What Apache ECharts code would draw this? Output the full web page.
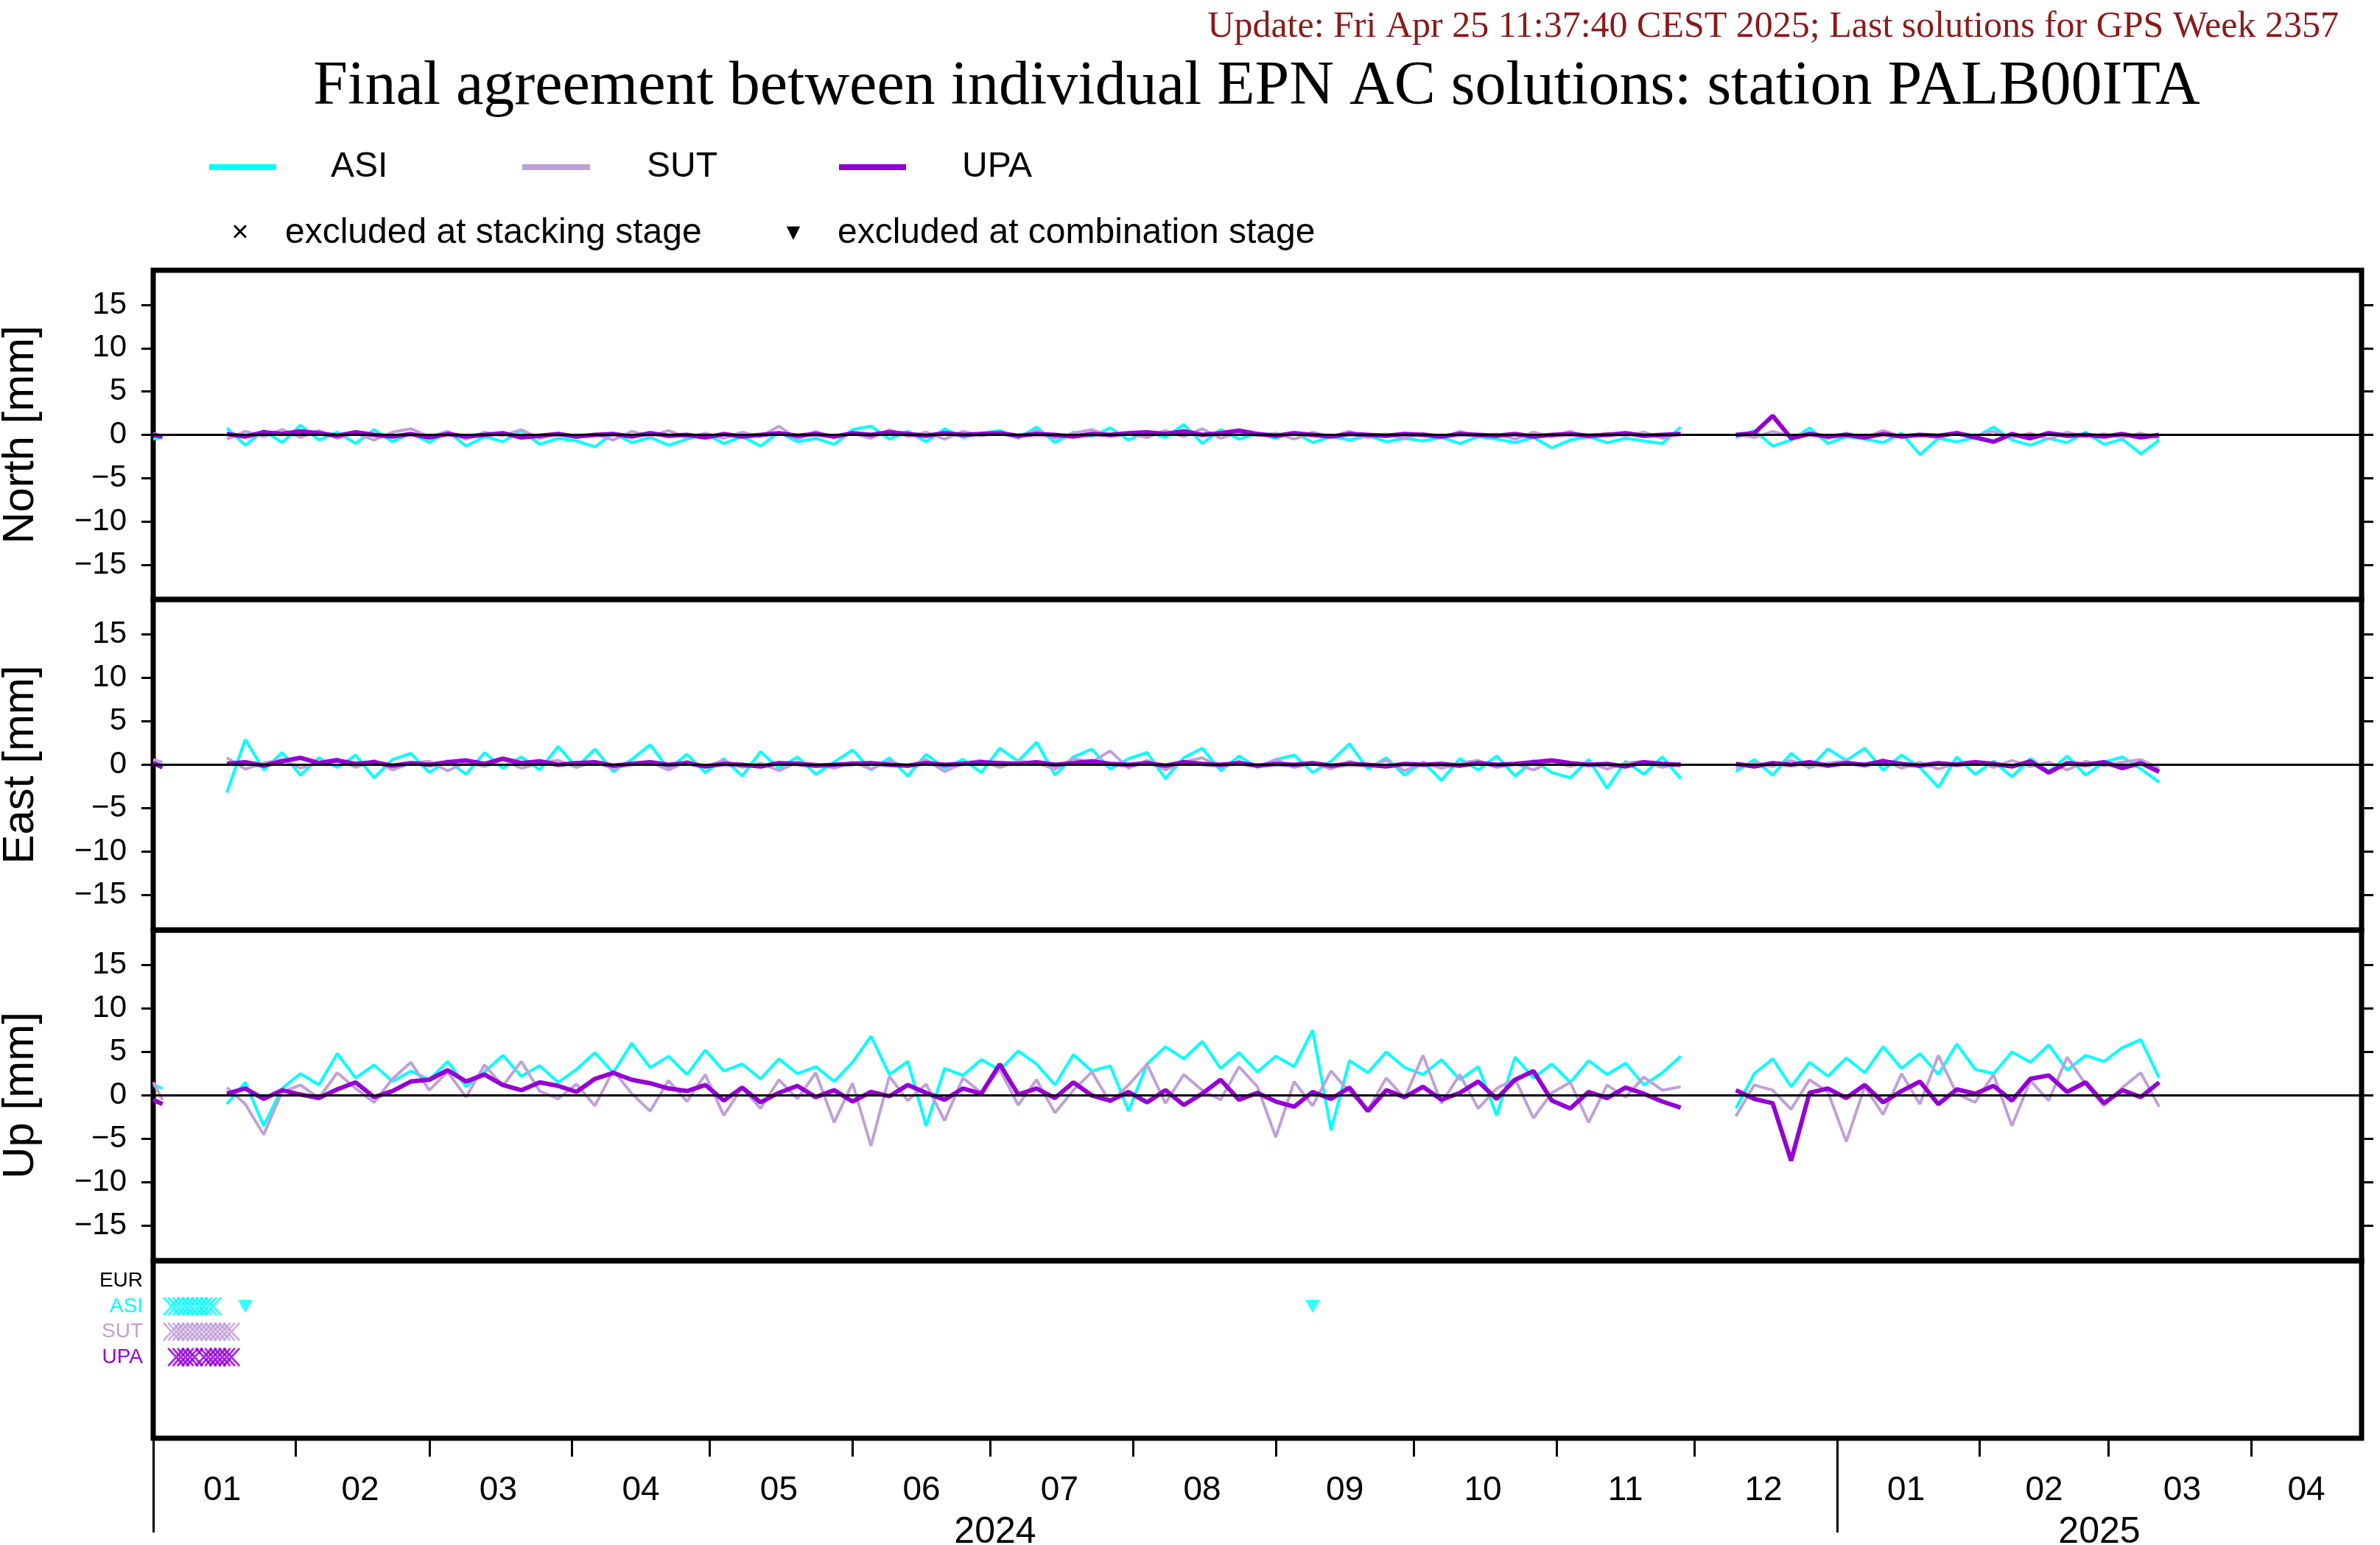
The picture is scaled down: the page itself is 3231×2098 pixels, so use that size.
<!DOCTYPE html>
<html><head><meta charset="utf-8">
<script src="https://cdn.jsdelivr.net/npm/echarts@6/dist/echarts.min.js"></script>
<style>html,body{margin:0;padding:0;background:#fff}#c{width:3231px;height:2098px}</style>
</head><body><div id="c"></div>
<script>
const dates = ['2024-01-01','2024-01-03','2024-01-10',
'2024-01-17','2024-01-21','2024-01-25','2024-01-29',
'2024-02-02','2024-02-06','2024-02-10','2024-02-14','2024-02-18','2024-02-22','2024-02-26',
'2024-03-01','2024-03-05','2024-03-09','2024-03-13','2024-03-17','2024-03-21','2024-03-25','2024-03-29',
'2024-04-02','2024-04-06','2024-04-10','2024-04-14','2024-04-18','2024-04-22','2024-04-26','2024-04-30',
'2024-05-04','2024-05-08','2024-05-12','2024-05-16','2024-05-20','2024-05-24','2024-05-28',
'2024-06-01','2024-06-05','2024-06-09','2024-06-13','2024-06-17','2024-06-21','2024-06-25','2024-06-29',
'2024-07-03','2024-07-07','2024-07-11','2024-07-15','2024-07-19','2024-07-23','2024-07-27','2024-07-31',
'2024-08-04','2024-08-08','2024-08-12','2024-08-16','2024-08-20','2024-08-24','2024-08-28',
'2024-09-01','2024-09-05','2024-09-09','2024-09-13','2024-09-17','2024-09-21','2024-09-25','2024-09-29',
'2024-10-03','2024-10-07','2024-10-11','2024-10-15','2024-10-19','2024-10-23','2024-10-27','2024-10-31',
'2024-11-04','2024-11-08','2024-11-12','2024-11-16','2024-11-20','2024-11-24','2024-11-28',
'2024-12-02','2024-12-06','2024-12-10','2024-12-14','2024-12-18','2024-12-22','2024-12-26','2024-12-30',
'2025-01-03','2025-01-07','2025-01-11','2025-01-15','2025-01-19','2025-01-23','2025-01-27','2025-01-31',
'2025-02-04','2025-02-08','2025-02-12','2025-02-16','2025-02-20','2025-02-24','2025-02-28',
'2025-03-04','2025-03-08','2025-03-12'];

const northASI = [-0.5,-0.3,null,
 0.8,-1.2,0.5,-0.9,
 1.1,-0.6,0.3,-1.0,0.6,-0.8,0.2,
 -0.9,0.4,-1.3,-0.2,-0.8,0.5,-1.1,-0.4,
 -0.7,-1.4,0.2,-0.9,-0.3,-1.2,-0.5,0.1,
 -1.0,-0.2,-1.3,0.3,-0.8,-0.4,-1.1,
 0.6,1.0,-0.5,0.4,-0.8,0.7,-0.3,0.2,
 0.5,-0.4,0.9,-0.9,0.3,-0.2,0.8,-0.6,
 0.4,-0.3,1.2,-1.0,0.6,-0.5,0.2,
 -0.4,0.3,-0.9,-0.2,-0.6,-0.1,-0.8,-0.4,
 -0.7,-0.3,-1.0,-0.2,-0.5,-0.9,-0.3,-1.5,
 -0.6,-0.2,-0.9,-0.4,-0.7,-1.0,0.9,
 null,null,-0.3,0.5,-1.3,-0.6,0.8,-1.0,
 -0.2,-0.5,-0.9,0.2,-2.3,-0.4,-0.8,-0.3,
 0.9,-0.6,-1.2,-0.4,-0.9,0.3,-1.1,
 -0.5,-2.2,-0.6];
const northSUT = [0.2,-0.3,null,
 -0.5,0.4,-0.2,0.6,
 -0.3,0.5,-0.4,0.2,-0.6,0.3,0.7,
 -0.2,0.4,-0.5,0.3,-0.1,0.6,-0.4,0.2,
 -0.3,0.1,-0.6,0.4,-0.2,0.5,-0.3,0.2,
 -0.4,0.3,-0.2,1.0,-0.5,0.4,-0.3,
 0.2,-0.4,0.6,-0.2,0.3,-0.5,0.4,-0.1,
 0.3,-0.3,0.5,-0.4,0.2,0.6,-0.2,0.1,
 -0.3,0.5,-0.2,0.7,-0.4,0.3,-0.1,
 0.2,-0.5,0.3,-0.2,0.4,-0.3,0.1,-0.4,
 0.2,-0.3,0.4,-0.2,0.1,-0.5,0.3,-0.2,
 0.4,-0.3,0.2,-0.1,0.3,-0.4,0.2,
 null,null,0.1,-0.3,0.4,-0.2,0.3,-0.4,
 0.2,-0.3,0.5,-0.2,0.1,-0.4,0.3,-0.1,
 0.4,-0.3,0.2,-0.5,0.3,-0.2,0.1,
 -0.3,0.2,-0.4];
const northUPA = [0.0,-0.2,null,
 0.1,-0.2,0.3,0.1,
 0.4,0.2,-0.1,0.3,0.0,-0.2,0.1,
 -0.3,0.1,-0.2,0.0,0.2,-0.3,-0.1,0.1,
 -0.2,0.0,0.1,-0.2,0.2,-0.1,0.0,-0.3,
 0.1,-0.2,0.0,0.2,-0.1,0.1,-0.2,
 0.2,0.0,0.3,0.1,-0.1,0.2,0.0,0.1,
 0.2,-0.1,0.1,0.0,-0.2,0.1,0.0,0.2,
 0.3,0.1,0.4,0.0,0.2,0.5,0.1,
 -0.1,0.2,0.0,-0.2,0.1,0.0,-0.1,0.1,
 0.0,-0.2,0.1,0.0,-0.1,0.1,-0.2,0.0,
 0.1,-0.1,0.0,0.2,-0.1,0.0,0.1,
 null,null,0.0,0.2,2.2,-0.4,0.1,-0.2,
 0.0,-0.3,0.1,-0.2,0.0,-0.1,0.2,-0.3,
 -0.8,0.1,-0.4,0.2,-0.1,0.0,-0.2,
 0.1,-0.3,0.0];

const eastASI = [0.4,0.2,null,
 -3.2,2.9,-0.6,1.4,
 -1.2,0.8,-0.3,1.1,-1.5,0.6,1.3,
 -0.9,0.5,-1.1,1.4,-0.4,0.9,-0.6,2.1,
 -0.3,1.8,-0.8,0.6,2.3,-0.5,1.2,-0.9,
 0.7,-1.3,1.5,-0.4,0.9,-1.1,0.3,
 1.7,-0.6,0.8,-1.3,1.2,-0.4,0.6,-0.9,
 1.9,0.4,2.6,-1.2,0.9,1.8,-0.5,0.7,
 1.4,-1.6,0.8,1.9,-0.7,1.0,-0.3,
 0.6,1.1,-0.9,0.4,2.4,-0.5,0.8,-1.2,
 0.3,-1.8,0.7,-0.6,1.0,-1.3,0.5,-0.9,
 -1.5,0.6,-2.7,0.4,-1.1,0.9,-1.6,
 null,null,-0.8,0.6,-1.2,1.3,-0.4,1.8,
 0.5,1.9,-0.6,1.1,-0.3,-2.6,0.9,-1.1,
 0.4,-1.4,0.7,-0.8,1.0,-1.2,0.3,
 0.9,-0.5,-2.0];
const eastSUT = [0.6,0.3,null,
 0.8,-0.5,0.2,0.6,
 -0.4,0.3,0.7,-0.3,0.5,-0.6,0.2,
 0.4,-0.7,0.3,-0.2,0.6,-0.4,0.2,0.5,
 -0.3,0.4,-0.5,0.2,0.3,-0.6,0.4,-0.2,
 0.5,-0.3,0.2,-0.7,0.3,0.1,-0.4,
 0.3,-0.5,0.4,-0.2,0.6,-0.8,0.2,0.5,
 -0.3,0.4,0.2,-0.5,0.7,0.3,1.6,-0.4,
 0.5,-0.6,0.3,0.8,-0.3,0.4,-0.2,
 0.6,-0.3,0.2,-0.5,0.4,-0.2,0.5,-0.7,
 0.3,-0.4,0.2,0.5,-0.3,0.1,-0.6,0.4,
 -0.2,0.3,-0.5,0.2,0.4,-0.3,0.2,
 null,null,-0.4,0.3,-0.2,0.5,-0.3,0.2,
 0.4,-0.2,0.6,-0.4,0.3,-0.5,0.2,0.4,
 -0.3,0.5,-0.2,0.3,-0.6,0.4,-0.1,
 0.3,0.6,-0.4];
const eastUPA = [0.2,-0.3,null,
 0.1,0.3,-0.1,0.4,
 0.8,0.2,0.5,0.1,0.3,-0.1,0.2,
 0.0,0.3,0.5,0.1,0.7,0.2,0.4,0.0,
 0.2,0.3,-0.1,0.1,0.3,0.0,0.2,-0.2,
 0.1,0.0,-0.2,0.2,0.1,-0.1,0.0,
 0.1,0.2,0.0,-0.1,0.2,0.0,0.1,0.3,
 0.2,0.1,0.3,0.0,0.2,0.4,0.1,0.0,
 0.2,-0.1,0.3,0.1,0.0,0.2,-0.1,
 0.1,0.0,0.2,-0.1,0.1,0.0,-0.2,0.1,
 0.0,0.1,-0.1,0.2,0.0,0.1,0.3,0.5,
 0.2,0.0,0.1,-0.2,0.3,0.1,0.0,
 null,null,0.1,-0.2,0.2,0.0,0.3,-0.1,
 0.2,0.0,0.4,0.1,-0.1,0.2,0.0,0.3,
 0.1,-0.2,0.4,-0.9,0.2,0.0,0.3,
 -0.4,0.2,-0.8];

const upASI = [1.2,0.8,null,
 -1.0,1.5,-3.5,0.8,
 2.5,1.2,4.8,2.0,3.5,1.6,2.8,
 1.8,3.9,1.0,2.7,4.6,2.2,3.4,1.5,
 3.0,4.9,2.6,6.0,3.2,4.5,2.4,5.2,
 2.8,3.6,1.9,4.2,2.5,3.3,1.6,
 3.8,6.8,2.4,3.9,-3.5,3.1,2.3,4.1,
 2.9,5.1,3.6,1.2,4.7,2.8,3.4,-1.8,
 3.6,5.6,4.2,6.2,3.1,4.9,2.7,
 4.5,3.3,7.5,-4.0,4.0,2.6,5.0,3.2,
 2.4,4.1,1.8,3.3,-2.3,4.4,2.0,3.6,
 1.5,4.0,2.4,3.7,1.2,2.6,4.5,
 null,null,-1.5,2.5,4.2,1.0,3.8,2.2,
 4.3,2.6,5.6,3.1,4.8,2.4,5.9,3.0,
 2.5,5.0,3.8,5.8,2.9,4.6,3.9,
 5.5,6.4,2.0];
const upSUT = [1.5,-0.5,null,
 0.9,-1.0,-4.5,0.4,
 1.2,-0.3,2.6,0.8,-0.8,1.9,3.8,
 0.6,2.7,-0.2,3.5,1.1,3.9,0.5,-0.4,
 1.3,-1.2,2.9,0.2,-1.8,1.7,-0.7,2.4,
 -2.3,0.9,-1.5,1.8,-0.4,2.6,-3.1,
 1.4,-5.8,2.2,-0.6,1.3,-2.9,2.0,0.3,
 3.0,-1.1,1.8,-2.0,0.6,2.7,-0.8,1.2,
 3.6,-0.9,2.4,0.6,-0.5,3.3,1.0,
 -4.8,1.6,-1.2,2.8,0.4,-1.7,2.0,-0.3,
 4.6,-0.9,2.4,-1.5,0.8,1.9,-2.6,0.3,
 1.5,-3.1,1.2,-0.2,2.1,0.6,1.0,
 null,null,-2.4,1.2,0.6,-1.6,1.8,0.4,
 -5.3,1.0,-2.2,2.5,-1.0,4.6,0.2,-0.8,
 2.4,-3.5,1.7,-0.6,4.4,1.3,-1.2,
 0.9,2.6,-1.3];
const upUPA = [-0.5,-1.0,null,
 0.2,0.8,-0.4,0.6,
 0.1,-0.3,0.7,1.5,-0.2,0.5,1.6,
 1.8,2.9,1.6,2.4,1.2,0.6,1.5,1.1,
 0.4,1.9,2.6,1.8,1.4,0.8,0.5,1.2,
 -0.6,0.9,-0.8,0.3,1.1,-0.2,0.6,
 -0.7,0.4,-0.1,1.2,0.3,-0.5,0.8,0.2,
 3.6,0.1,0.8,-0.3,1.5,0.0,-0.6,0.4,
 -0.8,0.6,-1.1,0.2,1.8,-0.5,0.3,
 -0.7,-1.3,0.4,-0.4,0.9,-1.8,0.6,-0.2,
 1.0,-0.5,0.3,1.6,-0.4,1.8,2.8,-0.6,
 -1.5,0.4,-0.3,0.9,0.2,-0.7,-1.4,
 null,null,0.6,-0.4,-0.9,-7.5,0.3,0.8,
 -0.3,1.2,-0.8,0.5,1.6,-1.0,0.7,0.2,
 1.1,-0.6,1.9,2.3,0.4,1.5,-0.9,
 0.6,-0.2,1.5];

const exclRows = ['EUR','ASI','SUT','UPA'];
const asiCross = ['2024-01-05','2024-01-06','2024-01-07','2024-01-08','2024-01-09','2024-01-10','2024-01-11','2024-01-12','2024-01-13','2024-01-14'];
const sutCross = ['2024-01-05','2024-01-06','2024-01-07','2024-01-08','2024-01-09','2024-01-10','2024-01-11','2024-01-12','2024-01-13','2024-01-14','2024-01-15','2024-01-16','2024-01-17','2024-01-18'];
const upaCross = ['2024-01-06','2024-01-07','2024-01-08','2024-01-09','2024-01-10','2024-01-12','2024-01-13','2024-01-14','2024-01-15','2024-01-16','2024-01-17','2024-01-18'];
const asiTriangle = ['2024-01-21','2024-09-09'];

const monthTicks = ['2024-02-01','2024-03-01','2024-04-01','2024-05-01','2024-06-01','2024-07-01','2024-08-01','2024-09-01','2024-10-01','2024-11-01','2024-12-01','2025-02-01','2025-03-01','2025-04-01'];
const monthLabelAt = ['2024-01-16','2024-02-15','2024-03-16','2024-04-16','2024-05-16','2024-06-16','2024-07-16','2024-08-16','2024-09-16','2024-10-16','2024-11-16','2024-12-16','2025-01-16','2025-02-15','2025-03-17','2025-04-13'];
const yearTicks = ['2024-01-01','2025-01-01'];
const yearLabelAt = ['2024-07-02','2025-02-27'];
const yTicks = [-15,-10,-5,0,5,10,15];

const T = d => Date.parse(d + 'T00:00:00Z');
const COL = {ASI:'#00ffff', SUT:'#c0a0d8', UPA:'#9400d3'};
const XMIN = T('2024-01-01'), XMAX = T('2025-04-25');
const FONT = 'Liberation Sans';
const chart = echarts.init(document.getElementById('c'), null, {renderer:'canvas'});

const tops = [367, 814, 1263, 1712];
const heights = [447, 449, 449, 241];
const grid = tops.map((t,i)=>({left:208, right:25, top:t, height:heights[i], show:true, borderColor:'#000', borderWidth:7, backgroundColor:'transparent', containLabel:false, outerBoundsMode:'none'}));

const xAxis = [0,1,2,3].map(i=>({type:'value', gridIndex:i, min:XMIN, max:XMAX, show:false}));
xAxis[3] = {type:'value', gridIndex:3, min:XMIN, max:XMAX, position:'bottom',
  axisLine:{show:false}, splitLine:{show:false},
  axisTick:{show:true, length:25, lineStyle:{color:'#000', width:3}, customValues: monthTicks.map(T)},
  axisLabel:{show:true, margin:48, fontSize:46, fontFamily:FONT, color:'#000', customValues: monthLabelAt.map(T),
    formatter: v => String(new Date(v).getUTCMonth()+1).padStart(2,'0')}};
xAxis.push({type:'value', gridIndex:3, min:XMIN, max:XMAX, position:'bottom',
  axisLine:{show:false}, splitLine:{show:false},
  axisTick:{show:true, length:128, lineStyle:{color:'#000', width:3}, customValues: yearTicks.map(T)},
  axisLabel:{show:true, margin:103, fontSize:50, fontFamily:FONT, color:'#000', customValues: yearLabelAt.map(T),
    formatter: v => String(new Date(v).getUTCFullYear())}});

const names = ['North [mm]','East [mm]','Up [mm]'];
const yAxis = [];
[0,1,2].forEach(i=>{
  yAxis.push({type:'value', gridIndex:i, min:-19, max:19, position:'left',
    name:names[i], nameLocation:'middle', nameGap:150, nameRotate:90,
    nameTextStyle:{fontSize:60, fontFamily:FONT, color:'#000'},
    axisLine:{show:false}, splitLine:{show:false},
    axisTick:{show:true, length:16, lineStyle:{color:'#000', width:3}, customValues:yTicks},
    axisLabel:{show:true, margin:36, fontSize:42, fontFamily:FONT, color:'#000', customValues:yTicks,
      formatter: v => v < 0 ? '\u2212' + Math.abs(v) : String(v)}});
});
[0,1,2].forEach(i=>{
  yAxis.push({type:'value', gridIndex:i, min:-19, max:19, position:'right',
    axisLine:{show:false}, splitLine:{show:false}, axisLabel:{show:false},
    axisTick:{show:true, length:16, lineStyle:{color:'#000', width:3}, customValues:yTicks}});
});
const rowColors = ['#000', COL.ASI, COL.SUT, COL.UPA];
yAxis.push({type:'value', gridIndex:3, min:0.2, max:7.2, inverse:true,
  axisLine:{show:false}, splitLine:{show:false}, axisTick:{show:false},
  axisLabel:{show:true, margin:14, fontSize:28, fontFamily:FONT, customValues:[1,2,3,4],
    formatter: v => '{r' + v + '|' + exclRows[v-1] + '}',
    rich:{r1:{color:rowColors[0],fontSize:28,fontFamily:FONT}, r2:{color:rowColors[1],fontSize:28,fontFamily:FONT},
          r3:{color:rowColors[2],fontSize:28,fontFamily:FONT}, r4:{color:rowColors[3],fontSize:28,fontFamily:FONT}}}});

const comps = [[northASI,northSUT,northUPA],[eastASI,eastSUT,eastUPA],[upASI,upSUT,upUPA]];
const acs = ['ASI','SUT','UPA'];
const series = [];
comps.forEach((arrs,gi)=>{
  arrs.forEach((arr,k)=>{
    const s = {type:'line', xAxisIndex:gi, yAxisIndex:gi,
      data: dates.map((d,j)=>[T(d), arr[j]]), showSymbol:false, connectNulls:false, animation:false,
      lineStyle:{color:COL[acs[k]], width: k===2?6:4}, z:2+k};
    if(k===0){ s.markLine = {silent:true, symbol:'none', label:{show:false}, animation:false,
      lineStyle:{color:'#000', width:3, type:'solid'}, data:[{yAxis:0}]}; }
    series.push(s);
  });
});
const crossPath = 'path://M0,0L10,12M10,0L0,12';
[[asiCross,2,COL.ASI],[sutCross,3,COL.SUT],[upaCross,4,COL.UPA]].forEach(([arr,row,c])=>{
  series.push({type:'scatter', xAxisIndex:3, yAxisIndex:6, data:arr.map(d=>[T(d),row]), symbol:crossPath,
    symbolSize:[22,24], itemStyle:{color:'none', borderColor:c, borderWidth:3}, animation:false});
});
series.push({type:'scatter', xAxisIndex:3, yAxisIndex:6, data:asiTriangle.map(d=>[T(d),2]), symbol:'triangle',
  symbolRotate:180, symbolSize:[20,18], itemStyle:{color:COL.ASI}, animation:false});

const lg = {fontSize:48, fontFamily:FONT, fill:'#000'};
chart.setOption({
  backgroundColor:'#fff', animation:false,
  grid, xAxis, yAxis, series,
  graphic:[
    {type:'text', right:56, top:12, style:{text:'Update: Fri Apr 25 11:37:40 CEST 2025; Last solutions for GPS Week 2357', fontSize:50, fontFamily:'Liberation Serif', fill:'#8b1a1a'}},
    {type:'text', x:1706, y:119, style:{text:'Final agreement between individual EPN AC solutions: station PALB00ITA', fontSize:84, fontFamily:'Liberation Serif', fill:'#000', align:'center', verticalAlign:'middle'}},
    {type:'line', shape:{x1:284,y1:227,x2:375,y2:227}, style:{stroke:COL.ASI, lineWidth:8}},
    {type:'text', x:449, y:227, style:Object.assign({text:'ASI', verticalAlign:'middle'},lg)},
    {type:'line', shape:{x1:709,y1:227,x2:801,y2:227}, style:{stroke:COL.SUT, lineWidth:8}},
    {type:'text', x:878, y:227, style:Object.assign({text:'SUT', verticalAlign:'middle'},lg)},
    {type:'line', shape:{x1:1139,y1:227,x2:1230,y2:227}, style:{stroke:COL.UPA, lineWidth:8}},
    {type:'text', x:1306, y:227, style:Object.assign({text:'UPA', verticalAlign:'middle'},lg)},
    {type:'text', x:326, y:317, style:{text:'\u00d7', fontSize:40, fontFamily:FONT, fill:'#000', align:'center', verticalAlign:'middle'}},
    {type:'text', x:387, y:317, style:Object.assign({text:'excluded at stacking stage', verticalAlign:'middle'},lg)},
    {type:'text', x:1077, y:317, style:{text:'\u25bc', fontSize:24, fontFamily:'DejaVu Sans', fill:'#000', align:'center', verticalAlign:'middle'}},
    {type:'text', x:1137, y:317, style:Object.assign({text:'excluded at combination stage', verticalAlign:'middle'},lg)}
  ]
});
</script></body></html>
